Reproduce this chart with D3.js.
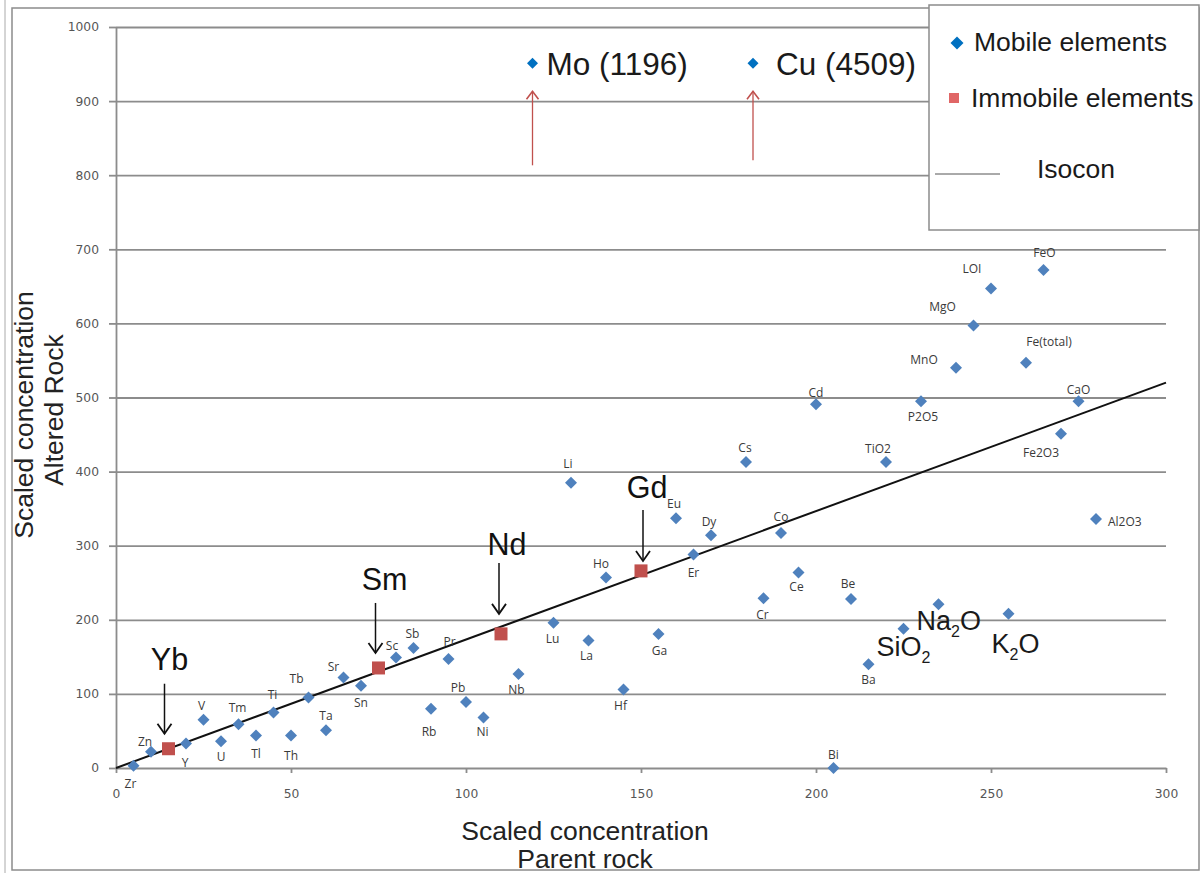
<!DOCTYPE html>
<html><head><meta charset="utf-8">
<script src="https://cdn.jsdelivr.net/npm/d3@7"></script>
<style>body{margin:0;background:#fff}svg{display:block}</style>
</head><body>
<svg id="c" width="1201" height="873"></svg>
<script>
// ---- data ----
const mobileNames = ["Zr","Zn","Y","V","U","Tm","Tl","Ti","Th","Tb","Ta","Sr","Sn","Sc","Sb","Rb","Pr","Pb","Ni","Nb","Lu","Li","La","Ho","Hf","Ga","Eu","Er","Dy","Cs","Cr","Co","Ce","Cd","Bi","Be","Ba","TiO2","SiO2","P2O5","Na2O","MnO","MgO","LOI","K2O","Fe(total)","FeO","Fe2O3","CaO","Al2O3"];
const mobileX = [5,10,20,25,30,35,40,45,50,55,60,65,70,80,85,90,95,100,105,115,125,130,135,140,145,155,160,165,170,180,185,190,195,200,205,210,215,220,225,230,235,240,245,250,255,260,265,270,275,280];
const mobileY = [3,22,33,65,36,59,44,75,44,95,51,122,111,149,162,80,147,89,68,127,196,385,172,257,106,181,337,288,314,413,229,317,264,491,0,228,140,413,188,495,221,540,597,647,208,547,672,451,495,336];
const immobileNames = ["Yb","Sm","Nd","Gd"];
const immobileX = [15,75,110,150];
const immobileY = [26,135,181,266];
const isoconX = [0,300];
const isoconY = [0,520];
const outlierNames = ["Mo (1196)","Cu (4509)"];
const outlierX = [119,182];
const outlierPlotY = [951,951];
const xTicks = [0,50,100,150,200,250,300];
const yTicks = [0,100,200,300,400,500,600,700,800,900,1000];

// ---- label placement (style) ----
const labelOff = {"Zr":[-3,22],"Zn":[-6,-6],"Y":[-1,23],"V":[-2,-10],"U":[0,20],"Tm":[-1,-12],"Tl":[0,23],"Ti":[-1,-13],"Th":[0,25],"Tb":[-12,-15],"Ta":[0,-10],"Sr":[-10,-7],"Sn":[0,21],"Sc":[-4,-8],"Sb":[-1,-10],"Rb":[-2,27],"Pr":[1,-13],"Pb":[-8,-10],"Ni":[-1,18],"Nb":[-2,20],"Lu":[-1,20],"Li":[-3,-15],"La":[-2,19],"Ho":[-5,-10],"Hf":[-3,21],"Ga":[1,21],"Eu":[-2,-10],"Er":[0,22],"Dy":[-2,-9],"Cs":[-1,-10],"Cr":[-1,21],"Co":[0,-12],"Ce":[-2,19],"Cd":[0,-7],"Bi":[0,-9],"Be":[-3,-11],"Ba":[0,20],"TiO2":[-8,-9],"P2O5":[2,20],"MnO":[-32,-4],"MgO":[-31,-15],"LOI":[-19,-16],"Fe(total)":[23,-17],"FeO":[1,-13],"Fe2O3":[-20,23],"CaO":[0,-7],"Al2O3":[12,7]};
const bigOxides = {"SiO2":["SiO","2","",-27,27],"Na2O":["Na","2","O",-22,26],"K2O":["K","2","O",-17,39]};
const immAnn = {"Yb":[1,-79,-65,-15,-4],"Sm":[6,-78,-65,-15,-3],"Nd":[6,-79,-71,-20,-2],"Gd":[6,-73,-61,-10,2]};

const svg = d3.select("#c");
const x = d3.scaleLinear().domain([0,300]).range([116,1166]);
const y = d3.scaleLinear().domain([0,1000]).range([768,27]);
const grey = "#8c8c8c";

// frame
svg.append("line").attr("x1",5).attr("x2",5).attr("y1",0).attr("y2",873).attr("stroke","#aaa").attr("stroke-width",1);
svg.append("rect").attr("x",12).attr("y",8).attr("width",1187).attr("height",862).attr("fill","#fff").attr("stroke",grey).attr("stroke-width",1.5);

// grid
const grid = svg.append("g").attr("transform",`translate(${x(0)},0)`)
  .call(d3.axisLeft(y).tickValues(yTicks.filter(v=>v>0)).tickSize(-(x(300)-x(0))).tickFormat(""));
grid.select(".domain").remove();
grid.selectAll("line").attr("stroke",grey).attr("stroke-width",1.8);

// y axis
const ya = svg.append("g").attr("transform",`translate(${x(0)},0)`)
  .call(d3.axisLeft(y).tickValues(yTicks).tickFormat(d3.format("d")).tickSizeInner(7).tickSizeOuter(0).tickPadding(10));
ya.select(".domain").attr("stroke",grey).attr("stroke-width",1.8);
ya.selectAll("line").attr("stroke",grey).attr("stroke-width",1.8);
ya.selectAll("text").attr("font-family","DejaVu Sans").attr("font-size",12.3).attr("fill","#555");

// x axis
const xa = svg.append("g").attr("transform",`translate(0,${y(0)})`)
  .call(d3.axisBottom(x).tickValues(xTicks).tickFormat(d3.format("d")).tickSizeInner(5).tickSizeOuter(0).tickPadding(16));
xa.select(".domain").attr("stroke",grey).attr("stroke-width",1.8);
xa.selectAll("line").attr("stroke",grey).attr("stroke-width",1.8);
xa.selectAll("text").attr("font-family","DejaVu Sans").attr("font-size",12.3).attr("fill","#555");

// axis titles
const tf = "Liberation Sans, Arial, sans-serif";
svg.append("text").attr("x",585).attr("y",840).attr("text-anchor","middle").attr("font-family",tf).attr("font-size",26.5).attr("fill","#222").text("Scaled concentration");
svg.append("text").attr("x",585).attr("y",868).attr("text-anchor","middle").attr("font-family",tf).attr("font-size",26.5).attr("fill","#222").text("Parent rock");
svg.append("text").attr("transform","translate(33,415) rotate(-90)").attr("text-anchor","middle").attr("font-family",tf).attr("font-size",26.5).attr("fill","#222").text("Scaled concentration");
svg.append("text").attr("transform","translate(63,410) rotate(-90)").attr("text-anchor","middle").attr("font-family",tf).attr("font-size",26.5).attr("fill","#222").text("Altered Rock");

// isocon
svg.append("path").datum(isoconX.map((v,i)=>[v,isoconY[i]]))
  .attr("d",d3.line().x(d=>x(d[0])).y(d=>y(d[1])))
  .attr("stroke","#111").attr("stroke-width",2).attr("fill","none");

// mobile points
const diamond = (s)=>`M0,${-s}L${s},0L0,${s}L${-s},0Z`;
const mob = mobileNames.map((n,i)=>({n,x:mobileX[i],y:mobileY[i]}));
svg.append("g").selectAll("path").data(mob).join("path")
  .attr("transform",d=>`translate(${x(d.x)},${y(d.y)})`)
  .attr("d",diamond(6)).attr("fill","#4F81BD");

// point labels
svg.append("g").selectAll("text").data(mob.filter(d=>labelOff[d.n])).join("text")
  .attr("x",d=>x(d.x)+labelOff[d.n][0]).attr("y",d=>y(d.y)+labelOff[d.n][1])
  .attr("text-anchor",d=>d.n==="Al2O3"?"start":"middle")
  .attr("font-family","Open Sans").attr("font-size",12).attr("fill","#3a3a3a").text(d=>d.n);

// big oxide labels
mob.filter(d=>bigOxides[d.n]).forEach(d=>{
  const b = bigOxides[d.n];
  const t = svg.append("text").attr("x",x(d.x)+b[3]).attr("y",y(d.y)+b[4])
    .attr("font-family",tf).attr("font-size",27).attr("fill","#1a1a1a");
  t.append("tspan").text(b[0]);
  t.append("tspan").attr("font-size",16).attr("dy",7).text(b[1]);
  if(b[2]) t.append("tspan").attr("dy",-7).text(b[2]);
});

// immobile points
const imm = immobileNames.map((n,i)=>({n,x:immobileX[i],y:immobileY[i]}));
svg.append("g").selectAll("rect").data(imm).join("rect")
  .attr("x",d=>x(d.x)-6.5).attr("y",d=>y(d.y)-6.5).attr("width",13).attr("height",13).attr("fill","#C0504D");

// immobile annotations
function arrowDown(g,ax,y1,y2,col,w){
  g.append("line").attr("x1",ax).attr("x2",ax).attr("y1",y1).attr("y2",y2).attr("stroke",col).attr("stroke-width",w);
  g.append("path").attr("d",`M${ax-7},${y2-10}L${ax},${y2}L${ax+7},${y2-10}`).attr("stroke",col).attr("stroke-width",w+0.3).attr("fill","none");
}
function arrowUp(g,ax,y1,y2,col,w){
  g.append("line").attr("x1",ax).attr("x2",ax).attr("y1",y1).attr("y2",y2).attr("stroke",col).attr("stroke-width",w);
  g.append("path").attr("d",`M${ax-6},${y2+8}L${ax},${y2}L${ax+6},${y2+8}`).attr("stroke",col).attr("stroke-width",w+0.3).attr("fill","none");
}
const ann = svg.append("g");
imm.forEach(d=>{
  const a = immAnn[d.n], px=x(d.x), py=y(d.y);
  ann.append("text").attr("x",px+a[0]).attr("y",py+a[1]).attr("text-anchor","middle")
    .attr("font-family",tf).attr("font-size",30.5).attr("fill","#111").text(d.n);
  arrowDown(ann,px+a[4],py+a[2],py+a[3],"#111",1.5);
});

// outliers (off-scale)
outlierNames.forEach((n,i)=>{
  const px=x(outlierX[i]), py=y(outlierPlotY[i]);
  svg.append("path").attr("transform",`translate(${px},${py})`).attr("d",diamond(5.5)).attr("fill","#0070C0");
  svg.append("text").attr("x",px+(i===0?14:23)).attr("y",py+12).attr("font-family",tf).attr("font-size",31.5).attr("fill","#1a1a1a").text(n);
  arrowUp(svg,px,py+(i===0?102:97),py+28,"#C0504D",1.3);
});

// legend
const lg = svg.append("g");
lg.append("rect").attr("x",929).attr("y",5).attr("width",270).attr("height",225).attr("fill","#fff").attr("stroke",grey).attr("stroke-width",1.5);
lg.append("path").attr("transform","translate(957,43)").attr("d",diamond(6.5)).attr("fill","#0070C0");
lg.append("text").attr("x",974).attr("y",51).attr("font-family",tf).attr("font-size",26.5).attr("fill","#1a1a1a").text("Mobile elements");
lg.append("rect").attr("x",949).attr("y",93).attr("width",10).attr("height",10).attr("fill","#E06666");
lg.append("text").attr("x",971).attr("y",107).attr("font-family",tf).attr("font-size",26.5).attr("fill","#1a1a1a").text("Immobile elements");
lg.append("line").attr("x1",935).attr("x2",1000).attr("y1",174).attr("y2",174).attr("stroke","#555").attr("stroke-width",1);
lg.append("text").attr("x",1037).attr("y",178).attr("font-family",tf).attr("font-size",26.5).attr("fill","#1a1a1a").text("Isocon");
</script>
</body></html>
